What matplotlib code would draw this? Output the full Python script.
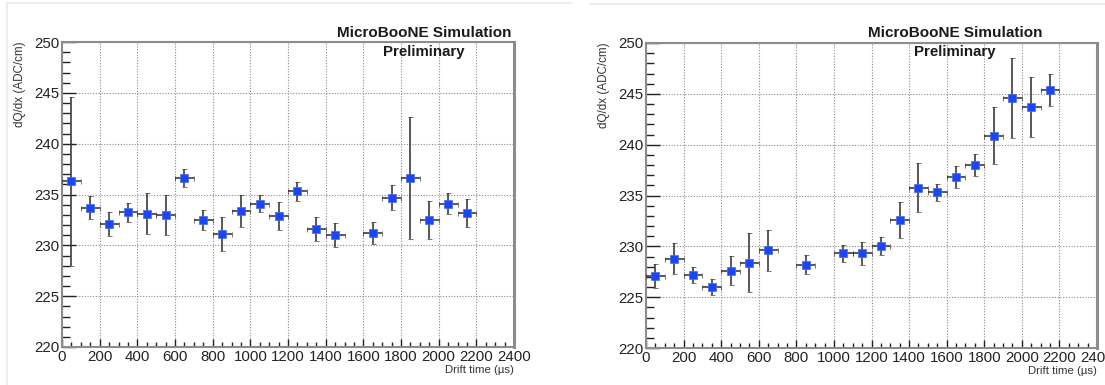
import matplotlib
matplotlib.use("Agg")
import matplotlib.pyplot as plt
from matplotlib.lines import Line2D
from matplotlib.ticker import MultipleLocator
import numpy as np

plt.rcParams['font.family'] = ['Liberation Sans', 'DejaVu Sans']

# ---- data ----
left_t = [50, 150, 250, 350, 450, 550, 650, 750, 850, 950, 1050, 1150, 1250,
          1350, 1450, 1650, 1750, 1850, 1950, 2050, 2150]
left_dqdx = [236.3, 233.7, 232.1, 233.25, 233.1, 233.0, 236.6, 232.5, 231.1, 233.4,
             234.1, 232.9, 235.3, 231.6, 231.0, 231.2, 234.7, 236.65, 232.5, 234.1, 233.2]
left_err = [8.3, 1.15, 1.15, 0.95, 2.0, 2.0, 0.9, 0.95, 1.65, 1.55,
            0.85, 1.35, 0.95, 1.2, 1.2, 1.05, 1.2, 6.0, 1.85, 1.0, 1.35]

right_t = [50, 150, 250, 350, 450, 550, 650, 850, 1050, 1150, 1250, 1350,
           1450, 1550, 1650, 1750, 1850, 1950, 2050, 2150]
right_dqdx = [227.07, 228.8, 227.2, 226.0, 227.6, 228.4, 229.6, 228.2, 229.3, 229.3,
              230.0, 232.6, 235.75, 235.3, 236.8, 238.0, 240.9, 244.6, 243.7, 245.4]
right_err = [1.15, 1.5, 0.8, 0.8, 1.45, 2.9, 2.0, 0.9, 0.85, 1.15,
             0.9, 1.75, 2.4, 0.85, 1.1, 1.05, 2.8, 3.9, 2.95, 1.55]

bin_half_width = 50
xlabel = "Drift time (\u00b5s)"
ylabel = "dQ/dx (ADC/cm)"
title1 = "MicroBooNE Simulation"
title2 = "Preliminary"

W, H = 1105, 385
fig = plt.figure(figsize=(W / 100, H / 100), dpi=100)
fig.patch.set_facecolor('white')


def px_ax(x0, x1, y0, y1):
    return [x0 / W, 1 - y1 / H, (x1 - x0) / W, (y1 - y0) / H]


def panel(rect, t, v, e, title_cx):
    ax = fig.add_axes(rect)
    ax.errorbar(t, v, yerr=e, xerr=bin_half_width, fmt='s', ms=5.8,
                mfc='#1a45f8', mec='#4a6ad8', mew=0.5,
                ecolor='#3c3c3c', elinewidth=1.2, capsize=1.8, capthick=1.0,
                zorder=3, clip_on=True)
    ax.set_xlim(0, 2400)
    ax.set_ylim(220, 250)
    ax.xaxis.set_major_locator(MultipleLocator(200))
    ax.xaxis.set_minor_locator(MultipleLocator(50))
    ax.yaxis.set_major_locator(MultipleLocator(5))
    ax.yaxis.set_minor_locator(MultipleLocator(1))
    ax.grid(True, which='major', linestyle=(0, (1, 1.5)), color='#8a8a8a', lw=0.8)
    ax.tick_params(axis='both', which='both', direction='in', color='#222222',
                   labelsize=10.8, labelcolor='#222222', width=1.0)
    ax.tick_params(axis='y', which='major', length=10, pad=2)
    ax.tick_params(axis='y', which='minor', length=5.5)
    ax.tick_params(axis='x', which='major', length=6, pad=2)
    ax.tick_params(axis='x', which='minor', length=3.5)
    for s in ['left', 'bottom', 'top']:
        ax.spines[s].set_color('#8c8c8c')
        ax.spines[s].set_linewidth(1.5)
    ax.spines['right'].set_color('#8c8c8c')
    ax.spines['right'].set_linewidth(2.2)
    ax.set_xlabel(xlabel, fontsize=8.2, color='#333333', loc='right', labelpad=1)
    ax.set_ylabel(ylabel, fontsize=8.4, color='#333333', loc='top', labelpad=6)
    fig.text(title_cx / W, 1 - 33 / H, title1, ha='center', va='center',
             fontsize=11, fontweight='bold', color='#1a1a1a')
    fig.text(title_cx / W, 1 - 52 / H, title2, ha='center', va='center',
             fontsize=10.8, fontweight='bold', color='#1a1a1a')
    return ax


panel(px_ax(62, 514, 42, 347), left_t, left_dqdx, left_err, 424)
panel(px_ax(646, 1097, 43, 348), right_t, right_dqdx, right_err, 955)

# faint panel borders
c = '#e3eee6'
fig.add_artist(Line2D([7 / W, 7 / W], [0, 1 - 3 / H], color=c, lw=1.2))
fig.add_artist(Line2D([7 / W, 571 / W], [1 - 3 / H, 1 - 3 / H], color=c, lw=1.2))
fig.add_artist(Line2D([590 / W, 1], [1 - 4 / H, 1 - 4 / H], color=c, lw=1.2))

fig.savefig('out.png', dpi=100, facecolor='white')
